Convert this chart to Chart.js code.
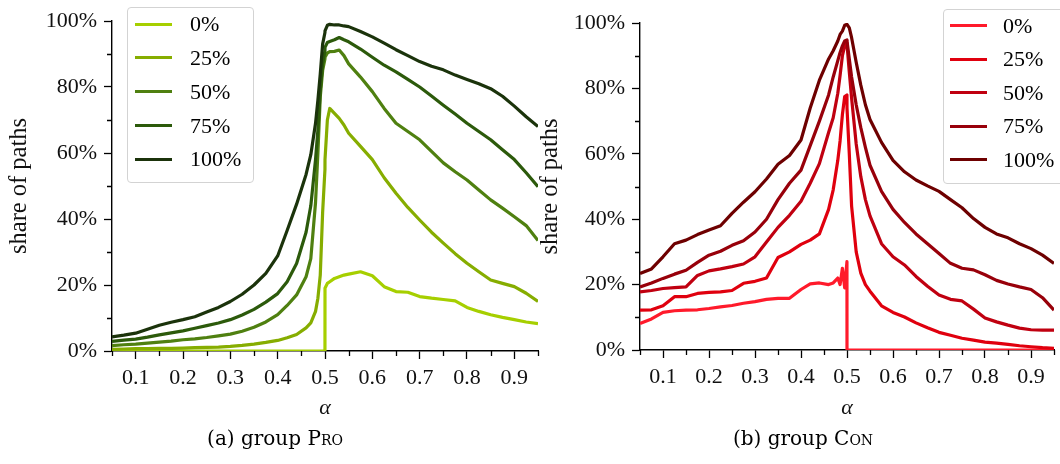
<!DOCTYPE html>
<html>
<head>
<meta charset="utf-8">
<script src="https://cdn.jsdelivr.net/npm/chart.js@4.4.1/dist/chart.umd.min.js"></script>
<style>
  body { margin:0; background:#fff; width:1060px; height:464px; overflow:hidden; position:relative; font-family:"Liberation Serif", serif; }
  canvas { position:absolute; top:0; }
  #cvPro { left:0; }
  #cvCon { left:530px; }
  .legend { position:absolute; border:1.5px solid #d3d3d3; border-radius:4px; background:rgba(255,255,255,0.8); box-sizing:border-box; z-index:2; }
  .legend .sw { position:absolute; height:3px; width:37px; }
  .legend .lbl { position:absolute; font-size:22px; line-height:26px; }
  .caption { position:absolute; top:426px; width:300px; text-align:center; font-family:"DejaVu Serif", serif; font-size:20px; }
  .sc { font-variant: small-caps; }
</style>
</head>
<body>
<canvas id="cvPro" width="545" height="430"></canvas>
<canvas id="cvCon" width="530" height="430"></canvas>
<div id="legPro" class="legend" style="left:127px; top:7px; width:127px; height:176px;"></div>
<div id="legCon" class="legend" style="left:943px; top:9px; width:130px; height:175px;"></div>
<div class="caption" style="left:125px;">(a) group <span class="sc">Pro</span></div>
<div class="caption" style="left:653px;">(b) group <span class="sc">Con</span></div>
<script>
// alpha grid shared by both panels (denser near 0.5)
var alpha = [0.05, 0.075, 0.1, 0.125, 0.15, 0.175, 0.2, 0.225, 0.25, 0.275, 0.3, 0.325, 0.35, 0.375, 0.4,
  0.42, 0.44, 0.46, 0.47, 0.48, 0.485, 0.49, 0.495, 0.4999, 0.5, 0.505, 0.51, 0.52, 0.53, 0.54, 0.55,
  0.575, 0.6, 0.625, 0.65, 0.675, 0.7, 0.725, 0.75, 0.775, 0.8, 0.825, 0.85, 0.875, 0.9, 0.925, 0.95];

var levels = ["0%", "25%", "50%", "75%", "100%"];

// group PRO, share of paths in %
var pro0 = [0,0,0,0,0,0,0,0,0,0,0,0,0,0,0,
  0,0,0,0,0,0,0,0,0, 19,20.5,21,22,22.5,23,23.3,
  24,22.8,19.5,18,17.8,16.5,16,15.6,15.2,13.2,12,11,10.2,9.5,8.8,8.3];
var pro25 = [0.5,0.6,0.7,0.7,0.8,0.8,0.9,1.0,1.1,1.2,1.4,1.7,2.1,2.6,3.2,
  4.0,5.0,7.0,8.5,12,16,23,42,55, 58,70,73.5,72,70.5,68.5,66,
  62,58,52.5,47.8,43.5,39.7,36,32.7,29.5,26.6,24,21.5,20.5,19.5,17.5,15];
var pro50 = [1.6,1.9,2.1,2.4,2.7,3.0,3.4,3.7,4.1,4.6,5.1,6.0,7.2,8.8,11.0,
  13.8,17,22.5,28,45,60,77,85,88.5, 89,90.3,90.7,90.8,91.2,89.5,87,
  83,78.6,73.5,69,66.5,64,60.5,57,54.3,51.8,48.8,45.8,43.3,40.7,38,33.5];
var pro75 = [2.9,3.3,3.6,4.2,4.9,5.5,6.1,6.9,7.7,8.5,9.5,10.9,12.6,14.8,17.4,
  21,26.5,36,44,58,67,79,87,91, 92,93.5,93.8,94.3,95,94.3,93.7,
  91.5,89,86.6,84.6,82.3,80,77.3,74.5,71.8,69,66.5,64,61,58,54,49.8];
var pro100 = [4.3,4.8,5.4,6.6,7.8,8.7,9.5,10.4,11.8,13.2,15.0,17.2,20,23.5,28.8,
  36.5,44.5,53.5,59.5,69,76,84,93,96.5, 97,98.7,99,98.8,98.8,98.5,98.3,
  96.8,95.2,93.3,91.3,89.5,87.7,86.3,85.2,83.6,82.3,81,79.5,77.2,74.2,71,68];

// group CON, share of paths in %
var con0 = [8.1,9.5,11.5,12,12.2,12.3,12.7,13.2,13.6,14.3,14.8,15.5,15.8,15.8,18.5,
  20.2,20.5,20,20.5,22,20,25,19,27, 0,0,0,0,0,0,0,
  0,0,0,0,0,0,0,0,0,0,0,0,0,0,0,0];
var con25 = [12.2,12.3,13.5,16.3,16.3,17.3,17.6,17.8,18.2,20.4,21,22,28.3,30,32.3,
  33.6,35.5,43,49,58,64,72,77.5,78, 74,60,44,30,23.5,20,18,
  13.5,11.5,10.1,8.3,6.8,5.4,4.5,3.6,3.0,2.4,2.1,1.7,1.3,1.0,0.7,0.5];
var con50 = [17.8,18.2,18.8,19.1,19.3,22.8,24.2,24.8,25.5,26.3,28.5,33,37.5,41.2,45.5,
  51,57,66.5,71,78.5,84,90,93,94, 93.5,85,77,63,53,46,41,
  32.5,28.5,26,22.5,19.5,16.8,15.5,15,12.5,9.8,8.6,7.6,6.7,6.2,6.1,6.1];
var con75 = [19.3,20.5,21.9,23.2,24.4,26.8,29,30.2,32,33.4,36.1,40,46,51,55,
  62.5,70,78,83.5,88.5,91,93,94.5,94.8, 94.5,89,83.5,75,68,62,56.5,
  48.5,43,39,35.5,32.5,29.5,26.5,25,24.5,23,21.3,20.2,19.3,18.5,16,12.2];
var con100 = [23.4,24.8,28.5,32.5,33.6,35.3,36.7,38,41.8,45.2,48.4,52.3,56.8,59.5,64.2,
  74,82.5,89,91.5,94.5,96.5,97.5,99.3,99.6, 99.6,98.5,95.5,88,81,75,70.5,
  63.5,58,54.5,52,50.2,48.5,46,43.5,40.2,37.5,35.5,34.3,32.5,31,29,26.5];

var proColors = ["#a6cf00", "#86ad00", "#4f8010", "#2c5a0b", "#1b330b"];
var conColors = ["#ff1a2b", "#e0000e", "#c00010", "#98000a", "#6e0000"];

var FONT = "'Liberation Serif', serif";

function isMajorX(v) {
  var k = Math.round(v * 100);
  return k % 10 === 0;
}
function isMajorY(v) {
  return Math.round(v) % 20 === 0;
}

// draws the shorter minor tick marks
var minorTicks = {
  id: "minorTicks",
  afterDraw: function(chart) {
    var c = chart.ctx;
    var xs = chart.scales.x, ys = chart.scales.y;
    c.save();
    c.strokeStyle = "#000";
    c.lineWidth = 1.3;
    c.beginPath();
    xs.ticks.forEach(function(t) {
      if (!isMajorX(t.value)) {
        var px = Math.round(xs.getPixelForValue(t.value)) + 0.5;
        c.moveTo(px, xs.top);
        c.lineTo(px, xs.top + 5);
      }
    });
    ys.ticks.forEach(function(t) {
      if (!isMajorY(t.value)) {
        var py = Math.round(ys.getPixelForValue(t.value)) + 0.5;
        c.moveTo(ys.right, py);
        c.lineTo(ys.right - 5, py);
      }
    });
    c.stroke();
    c.restore();
  }
};

function buildChart(id, series, colors, o) {
  var datasets = series.map(function(s, i) {
    return {
      label: levels[i],
      data: alpha.map(function(a, j) { return { x: a, y: s[j] }; }),
      borderColor: colors[i],
      backgroundColor: colors[i],
      borderWidth: 3.2,
      pointRadius: 0,
      tension: 0,
      borderJoinStyle: "round",
      order: series.length - i
    };
  });
  return new Chart(document.getElementById(id), {
    type: "line",
    data: { datasets: datasets },
    plugins: [minorTicks],
    options: {
      responsive: false,
      animation: false,
      events: [],
      layout: { padding: { top: o.top, right: o.right, left: 0, bottom: 0 } },
      plugins: { legend: { display: false }, tooltip: { enabled: false } },
      scales: {
        x: {
          type: "linear",
          min: 0.05, max: 0.95,
          afterFit: function(s) { s.height = o.xh; },
          border: { color: "#000", width: 1.4 },
          grid: {
            drawOnChartArea: false, tickLength: 8, tickWidth: 1.3,
            tickColor: function(c) { return isMajorX(c.tick.value) ? "#000" : "rgba(0,0,0,0)"; }
          },
          ticks: {
            stepSize: 0.05, autoSkip: false, maxRotation: 0, padding: 6,
            color: "#111", font: { family: FONT, size: 22 },
            callback: function(v) { return isMajorX(v) ? (Math.round(v * 100) / 100).toFixed(1) : ""; }
          },
          title: {
            display: true, text: "α", color: "#111",
            font: { family: FONT, size: 22, style: "italic" },
            padding: { top: 0, bottom: 9 }
          }
        },
        y: {
          min: 0, max: 100,
          afterFit: function(s) { s.width = o.yw; },
          border: { color: "#000", width: 1.4 },
          grid: {
            drawOnChartArea: false, tickLength: 8, tickWidth: 1.3,
            tickColor: function(c) { return isMajorY(c.tick.value) ? "#000" : "rgba(0,0,0,0)"; }
          },
          ticks: {
            stepSize: 10, autoSkip: false, padding: 7,
            color: "#111", font: { family: FONT, size: 22 },
            callback: function(v) { return isMajorY(v) ? Math.round(v) + "%" : ""; }
          },
          title: {
            display: true, text: "share of paths", color: "#111",
            font: { family: FONT, size: 24.5 },
            padding: { top: o.tpad, bottom: 0 }
          }
        }
      }
    }
  });
}

function buildLegend(id, colors, swLeft, txtLeft, firstY, stepY) {
  var box = document.getElementById(id);
  levels.forEach(function(lv, i) {
    var cy = firstY + i * stepY;
    var sw = document.createElement("div");
    sw.className = "sw";
    sw.style.left = swLeft + "px";
    sw.style.top = (cy - 1.5) + "px";
    sw.style.background = colors[i];
    box.appendChild(sw);
    var t = document.createElement("div");
    t.className = "lbl";
    t.style.left = txtLeft + "px";
    t.style.top = (cy - 13) + "px";
    t.textContent = lv;
    box.appendChild(t);
  });
}

buildChart("cvPro", [pro0, pro25, pro50, pro75, pro100], proColors, { top: 21, right: 7, xh: 79, yw: 112, tpad: 5 });
buildChart("cvCon", [con0, con25, con50, con75, con100], conColors, { top: 23, right: 0, xh: 80, yw: 110, tpad: 6 });
buildLegend("legPro", proColors, 7, 62, 16, 33.85);
buildLegend("legCon", conColors, 6, 59, 15.5, 33.5);
</script>
</body>
</html>
